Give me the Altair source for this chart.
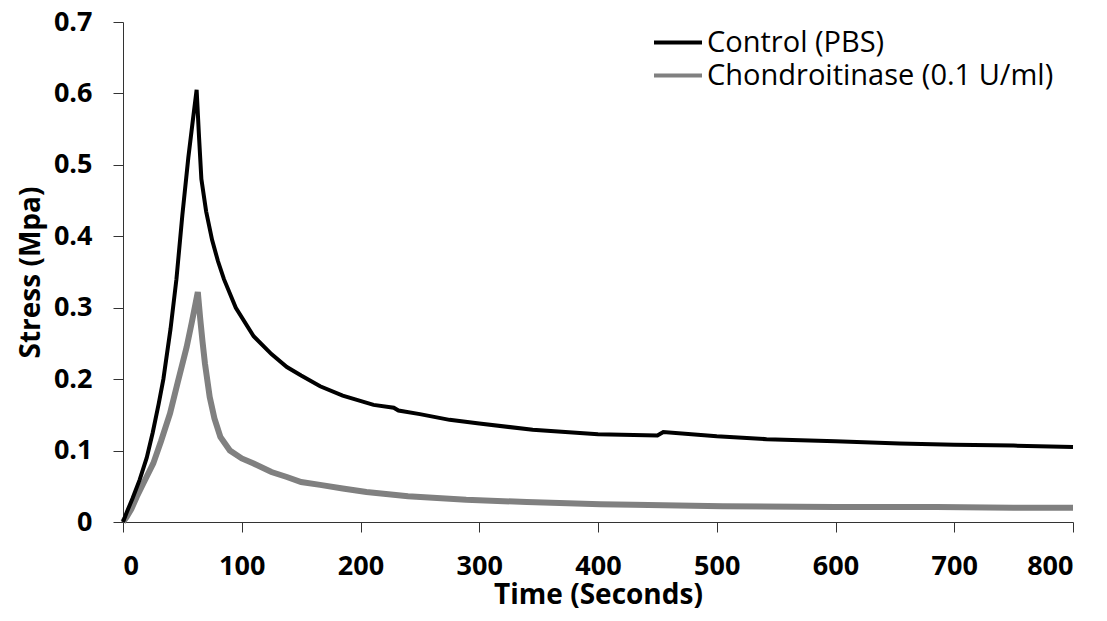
import altair as alt
import pandas as pd

# ---- data ----
series_names = ["Control (PBS)", "Chondroitinase (0.1 U/ml)"]

ctrl_t = [0, 3, 8, 14, 20, 25, 30, 34, 40, 45, 50, 55, 59, 62, 64, 66, 70, 75, 80, 85,
          95, 110, 125, 138, 150, 166, 185, 211, 228, 232, 250, 275, 300, 345, 400, 450,
          455, 500, 542, 600, 654, 700, 750, 800]
ctrl_v = [0, 0.013, 0.033, 0.059, 0.09, 0.125, 0.165, 0.2, 0.27, 0.34, 0.43, 0.51, 0.565,
          0.605, 0.54, 0.48, 0.435, 0.395, 0.365, 0.34, 0.3, 0.26, 0.235, 0.217, 0.205,
          0.19, 0.177, 0.164, 0.16, 0.156, 0.151, 0.143, 0.138, 0.129, 0.123, 0.121,
          0.126, 0.12, 0.116, 0.113, 0.11, 0.108, 0.107, 0.105]

chon_t = [0, 3, 7, 11.5, 18, 25.5, 32, 39.6, 46, 53.6, 58, 61, 63, 65, 67, 69, 73, 77,
          82, 90, 100, 110, 125, 138, 150, 166, 185, 205, 240, 289, 340, 402, 430, 505,
          600, 685, 750, 800]
chon_v = [0, 0.007, 0.018, 0.035, 0.057, 0.082, 0.113, 0.152, 0.195, 0.245, 0.28, 0.305,
          0.322, 0.285, 0.252, 0.222, 0.175, 0.145, 0.119, 0.1, 0.089, 0.082, 0.07, 0.063,
          0.056, 0.052, 0.047, 0.042, 0.036, 0.031, 0.028, 0.025, 0.024, 0.022, 0.021,
          0.021, 0.02, 0.02]

x_ticks = [0, 100, 200, 300, 400, 500, 600, 700, 800]
y_ticks = [0, 0.1, 0.2, 0.3, 0.4, 0.5, 0.6, 0.7]

df = pd.concat([
    pd.DataFrame({"t": ctrl_t, "v": ctrl_v, "series": series_names[0]}),
    pd.DataFrame({"t": chon_t, "v": chon_v, "series": series_names[1]}),
])

FONT = "Open Sans"

x = alt.X("t:Q", scale=alt.Scale(domain=[0, 800], nice=False, zero=False),
          axis=alt.Axis(values=x_ticks, title="Time (Seconds)", format="d",
                        labelPadding=21, titlePadding=2))
y = alt.Y("v:Q", scale=alt.Scale(domain=[0, 0.7], nice=False),
          axis=alt.Axis(values=y_ticks, title="Stress (Mpa)", format=".1~f",
                        labelPadding=21, titlePadding=8))
color = alt.Color("series:N",
                  scale=alt.Scale(domain=series_names, range=["#000000", "#808080"]),
                  legend=alt.Legend(title=None, orient="none", legendX=529, legendY=4,
                                    symbolType="stroke", symbolSize=2304,
                                    symbolStrokeWidth=4, labelFontSize=29,
                                    labelFont=FONT, labelColor="#000000", labelLimit=0,
                                    labelOffset=3, rowPadding=0, clipHeight=33,
                                    padding=0))

base = alt.Chart(df)
gray = base.transform_filter(alt.datum.series == series_names[1]).mark_line(
    strokeWidth=6).encode(x=x, y=y, color=color)
black = base.transform_filter(alt.datum.series == series_names[0]).mark_line(
    strokeWidth=4).encode(x=x, y=y, color=color)

chart = alt.layer(gray, black).properties(
    width=950, height=500,
    autosize=alt.AutoSizeParams(type="none"),
    padding={"left": 115, "top": 14, "right": 26, "bottom": 90},
    background="white",
).configure_view(stroke=None).configure_axis(
    grid=False,
    labelFont=FONT, labelFontWeight="bold", labelFontSize=27, labelColor="#000000",
    titleFont=FONT, titleFontWeight="bold", titleFontSize=28, titleColor="#000000",
    tickSize=10, tickColor="#333333", domainColor="#333333", tickWidth=1, domainWidth=1,
)

chart.save("out.html", embed_options={"renderer": "svg", "actions": False})
